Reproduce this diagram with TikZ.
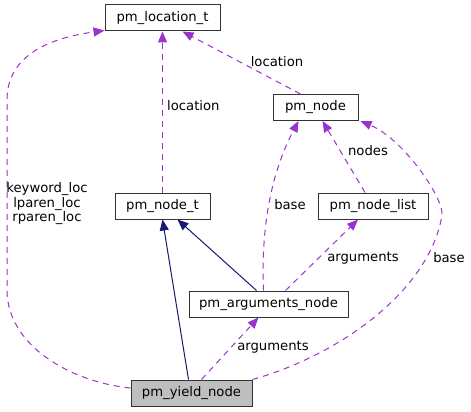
\documentclass[tikz,border=0pt]{standalone}
\usepackage{fontspec}
\setmainfont{DejaVu Sans}
\usetikzlibrary{arrows.meta,positioning}
\definecolor{edgepurple}{HTML}{9A32CD}
\definecolor{edgenavy}{HTML}{191970}
\definecolor{boxgray}{HTML}{BFBFBF}

\begin{document}
\begin{tikzpicture}[x=1pt,y=-1pt,
    font=\fontsize{13.2}{14.5}\selectfont,
    cls/.style={draw=black!80,line width=1pt,minimum height=26pt,inner sep=0pt},
    member/.style={edgepurple,line width=1pt,dash pattern=on 6pt off 5pt,
      -{Triangle[length=11pt,width=9pt]}},
    inherit/.style={edgenavy,line width=1pt,-{Triangle[length=11pt,width=9pt]}},
    lbl/.style={inner sep=0pt,align=center}]
  \useasboundingbox (0,0) rectangle (471,412);

  \node[cls,minimum width=115pt] (loc) at (162.5,18) {pm\_location\_t};
  \node[cls,minimum width=85pt] (pmnode) at (315.5,107.5) {pm\_node};
  \node[cls,minimum width=95pt] (nodet) at (162.5,206) {pm\_node\_t};
  \node[cls,minimum width=110pt] (nodelist) at (373,206) {pm\_node\_list};
  \node[cls,minimum width=159pt] (args) at (268.5,304) {pm\_arguments\_node};
  \node[cls,minimum width=121pt,fill=boxgray] (yield) at (191.5,393) {pm\_yield\_node};

  % members
  \draw[member] ([yshift=5pt]yield.west) .. controls (70,382) and (7,345) .. (7,290)
    -- (7,100) .. controls (7,55) and (50,38) .. ([yshift=1pt]loc.south west);
  \node[lbl] (locs) at (47,204) {keyword\_loc\\lparen\_loc\\rparen\_loc};
  \draw[member] (nodet) -- (loc);
  \node[lbl,anchor=west] (loc1) at (167,106) {location};
  \draw[member] ([xshift=-15pt]pmnode.north) -- ([xshift=20pt]loc.south);
  \node[lbl] (loc2) at (277,62) {location};
  \draw[member] ([xshift=-8pt]nodelist.north) -- ([xshift=7pt]pmnode.south);
  \node[lbl] (nodes) at (368,151) {nodes};
  \draw[member] ([xshift=-5pt]args.north) .. controls (261,230) and (270,175)
    .. ([xshift=-17pt]pmnode.south);
  \node[lbl] (base1) at (290,205) {base};
  \draw[member] ([xshift=17pt]args.north) -- ([xshift=-15pt]nodelist.south);
  \node[lbl] (arg1) at (363,258) {arguments};
  \draw[member] (yield.north east) .. controls (340,355) and (430,290) .. (442,215)
    .. controls (444.4,200) and (405,140) .. ([xshift=2pt]pmnode.south east);
  \node[lbl] (base2) at (449,258) {base};
  \draw[member] ([xshift=10pt]yield.north) -- ([xshift=-10pt]args.south);
  \node[lbl] (arg2) at (273,347) {arguments};

  % inheritance
  \draw[inherit] ([xshift=-3pt]yield.north) -- (nodet.south);
  \draw[inherit] ([xshift=-12pt]args.north) -- ([xshift=15pt]nodet.south);
\end{tikzpicture}
\end{document}
